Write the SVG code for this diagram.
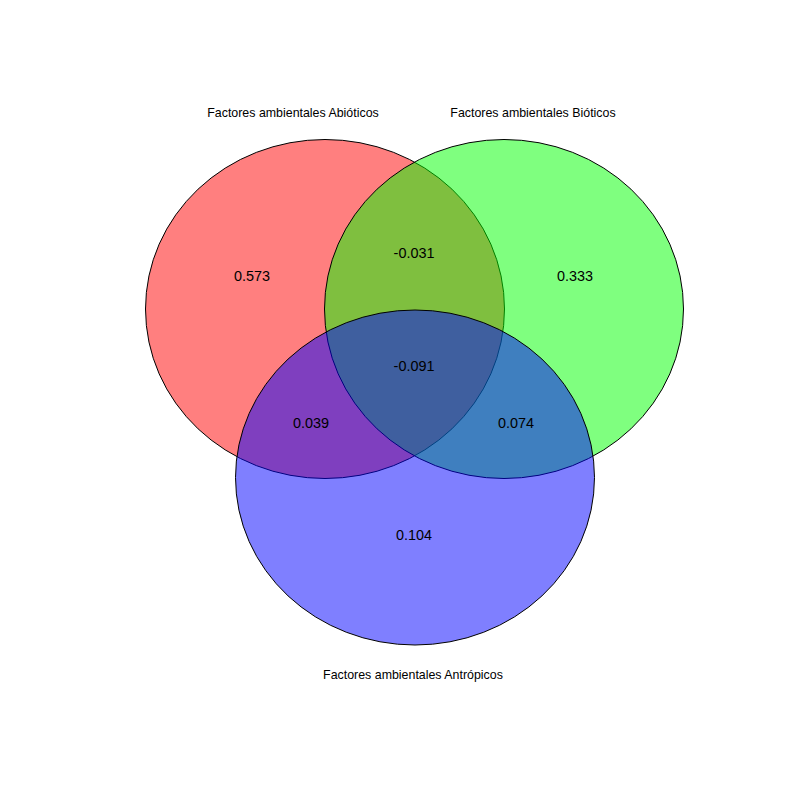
<svg xmlns="http://www.w3.org/2000/svg" width="800" height="800" viewBox="0 0 800 800">
<style>
.set{stroke:#000;stroke-width:1;fill-opacity:0.5}
.lab{font-family:"Liberation Sans",Arial,sans-serif;font-size:12.4px;fill:#000;text-anchor:middle}
.num{font-family:"Liberation Sans",Arial,sans-serif;font-size:14.4px;fill:#000;text-anchor:middle}
</style>
<rect width="800" height="800" fill="#fff"/>
<g id="sets">
<g id="abioticos"><ellipse class="set" cx="325" cy="309" rx="179.5" ry="169.5" fill="#ff0000"/></g>
<g id="bioticos"><ellipse class="set" cx="504" cy="309" rx="179.5" ry="169.5" fill="#00ff00"/></g>
<g id="antropicos"><ellipse class="set" cx="415" cy="477.5" rx="179.5" ry="167.5" fill="#0000ff"/></g>
</g>
<g id="connectors"></g>
<g id="labels">
<text class="lab" x="293" y="117">Factores ambientales Abióticos</text>
<text class="lab" x="533" y="117">Factores ambientales Bióticos</text>
<text class="lab" x="413" y="679">Factores ambientales Antrópicos</text>
<text class="num" x="252" y="281">0.573</text>
<text class="num" x="414" y="258">-0.031</text>
<text class="num" x="575" y="281">0.333</text>
<text class="num" x="414" y="371">-0.091</text>
<text class="num" x="311" y="428">0.039</text>
<text class="num" x="516" y="428">0.074</text>
<text class="num" x="414" y="540">0.104</text>
</g>
</svg>
